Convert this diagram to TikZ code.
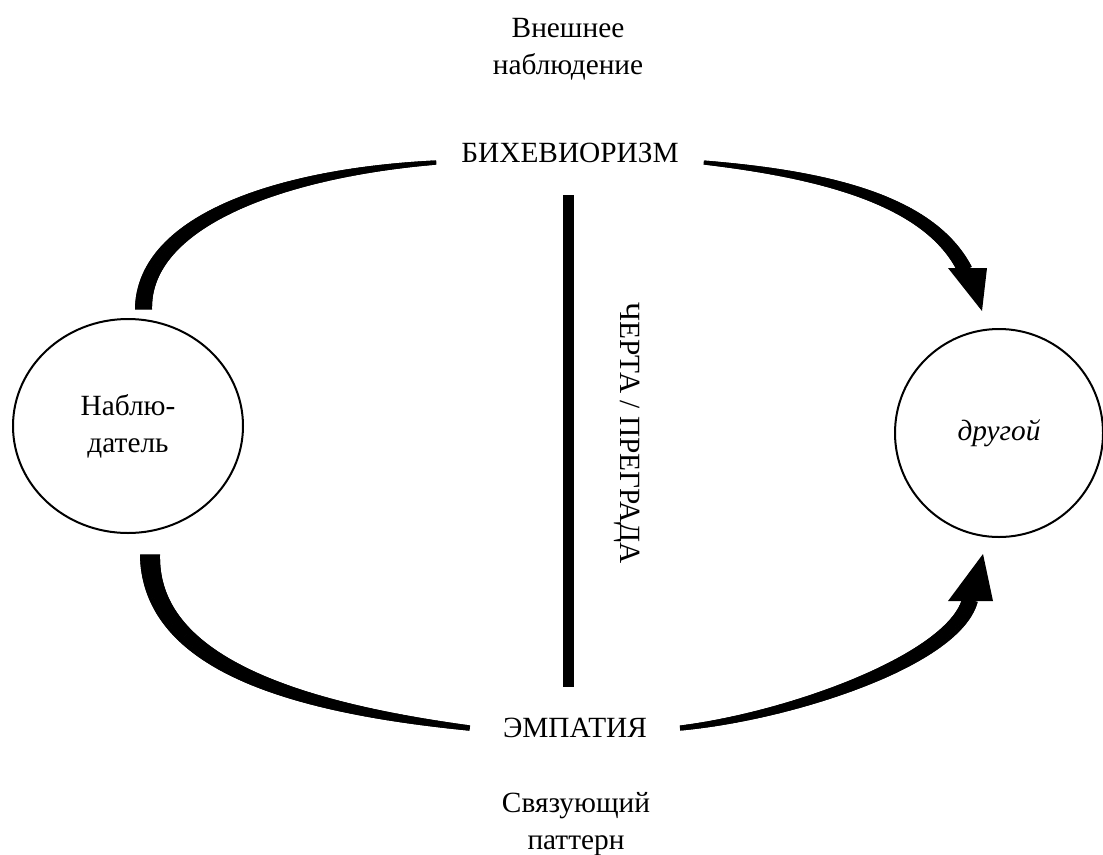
\documentclass[tikz,border=0pt]{standalone}
\usepackage{fontspec}
\setmainfont{Liberation Serif}
\usetikzlibrary{shapes.geometric,decorations.markings}

\tikzset{
  lbl/.style={font=\fontsize{22}{28}\selectfont, align=center},
  ring/.style={draw, line width=1.5pt, inner sep=0pt},
  % brush stroke whose width runs from #1 to #2 (pt)
  taper/.style 2 args={postaction={decorate, decoration={markings,
    mark=between positions 0 and 1 step 0.4pt with {
      \pgfmathsetmacro\hw{0.5*(#1+(#2-#1)*\pgfkeysvalueof{/pgf/decoration/mark info/distance from start}/\pgfdecoratedpathlength)}
      \fill (-0.45pt,-\hw pt) rectangle (0.45pt,\hw pt);}}}},
}

\begin{document}
\begin{tikzpicture}[x=0.75pt, y=-0.75pt]
  \useasboundingbox (0,0) rectangle (1103,854);

  % ── Observer and the other ───────────────────────────────────
  \node[ring, ellipse, minimum width=172.5pt, minimum height=160.5pt, lbl] (obs)   at (128,426) {Наблю-\\датель};
  \node[ring, circle, minimum size=156pt, lbl]                             (other) at (999,433) {\itshape другой};

  % ── Labels ───────────────────────────────────────────────────
  \node[lbl]                    (outer) at (568,49)  {Внешнее\\наблюдение};
  \node[lbl, inner xsep=19pt]   (beh)   at (570,153) {БИХЕВИОРИЗМ};
  \node[lbl, inner xsep=25pt]   (emp)   at (575,728) {ЭМПАТИЯ};
  \node[lbl]                    (link)  at (576,824) {Связующий\\паттерн};

  % ── Barrier ──────────────────────────────────────────────────
  \coordinate (bartop) at (568.5,195);
  \coordinate (barbot) at (568.5,687);
  \draw[line width=8.25pt] (bartop) -- (barbot);
  \node[lbl, rotate=-90] (barlbl) at (627,433) {ЧЕРТА / ПРЕГРАДА};

  % arrow ends next to the other
  \coordinate (trend) at ([shift={(-34,-58)}]other.north);
  \coordinate (brend) at ([shift={(-29,62)}]other.south);

  % ── Upper route: observer → behaviorism → other ──────────────
  \path[taper={12.75}{3}] ([shift={(15.5,-9)}]obs.north)
    .. controls +(0,-90) and +(-150,10) .. (beh.base west);
  \path[taper={3}{11.25}] (beh.base east)
    .. controls +(120,12) and +(-35,-70) .. (trend);
  \fill ([shift={(-17,-2)}]trend) -- ([shift={(22,-2)}]trend)
    -- ([shift={(17,41)}]trend) -- cycle;

  % ── Lower route: observer → empathy → other ──────────────────
  \path[taper={15}{3.75}] ([shift={(22,21)}]obs.south)
    .. controls +(0,110) and +(-170,-20) .. (emp.west);
  \path[taper={3.75}{12}] (emp.east)
    .. controls +(110,-12) and +(-16,60) .. (brend);
  \fill ([shift={(-22,1)}]brend) -- ([shift={(23,1)}]brend)
    -- ([shift={(13,-46)}]brend) -- cycle;

\end{tikzpicture}
\end{document}
